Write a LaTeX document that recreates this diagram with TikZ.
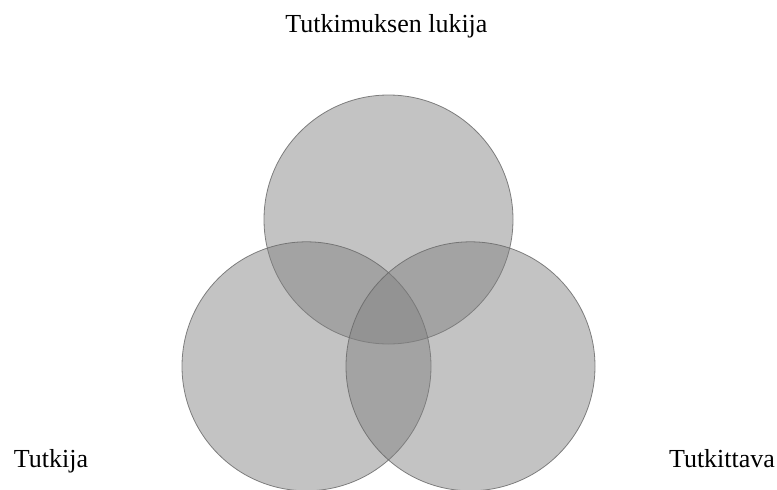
\documentclass[tikz,border=0pt]{standalone}
\usepackage{fontspec}
\setmainfont{Liberation Serif}
\begin{document}
\begin{tikzpicture}[x=1pt,y=-1pt,
  venn/.style={circle, minimum size=249pt, inner sep=0pt, fill=black!50, fill opacity=0.47, draw=black!60, draw opacity=0.8, line width=0.8pt},
  lbl/.style={anchor=base, inner sep=0pt, font=\fontsize{26}{30}\selectfont}]
\useasboundingbox (0,0) rectangle (777,490);
\node[venn] (top) at (388.5,219.5) {};
\node[venn] (left) at (306.5,366.3) {};
\node[venn] (right) at (470.5,366.3) {};
\node[lbl] (ltop) at (386.5,32) {Tutkimuksen lukija};
\node[lbl] (lleft) at (51,467) {Tutkija};
\node[lbl] (lright) at (722,467) {Tutkittava};
\end{tikzpicture}
\end{document}
